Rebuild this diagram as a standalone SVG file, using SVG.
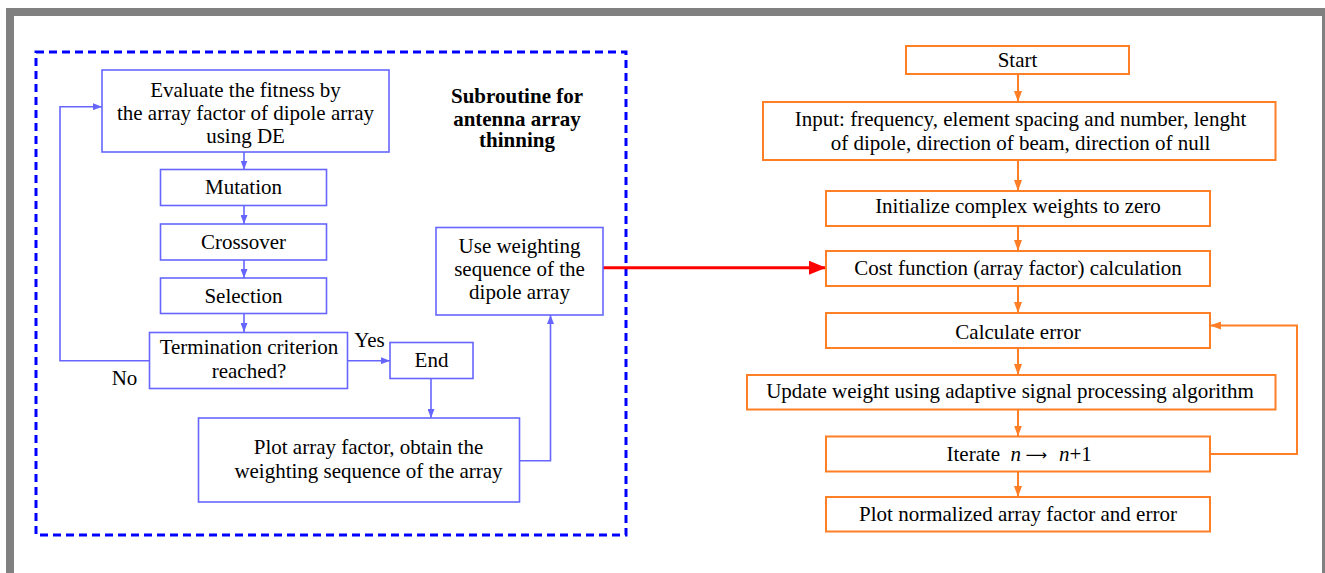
<svg xmlns="http://www.w3.org/2000/svg" width="1325" height="573" viewBox="0 0 1325 573">
<style>
  .t { font-family: "Liberation Serif", "Times New Roman", serif; font-size: 21px; fill: #000; text-anchor: middle; }
  .tb { font-family: "Liberation Serif", "Times New Roman", serif; font-size: 21px; font-weight: bold; fill: #000; text-anchor: middle; }
  .bbox { fill: #fff; stroke: #6666ff; stroke-width: 1.6; }
  .obox { fill: #fff; stroke: #ff7f27; stroke-width: 2; }
  .bl { fill: none; stroke: #6666ff; stroke-width: 1.6; }
  .ol { fill: none; stroke: #ff7f27; stroke-width: 2; }
</style>
<defs>
  <marker id="ab" markerUnits="userSpaceOnUse" markerWidth="9" markerHeight="7" refX="9" refY="3.5" orient="auto">
    <path d="M0,0 L9,3.5 L0,7 z" fill="#6666ff"/>
  </marker>
  <marker id="ao" markerUnits="userSpaceOnUse" markerWidth="11" markerHeight="8" refX="11" refY="4" orient="auto">
    <path d="M0,0 L11,4 L0,8 z" fill="#ff7f27"/>
  </marker>
  <marker id="ar" markerUnits="userSpaceOnUse" markerWidth="17" markerHeight="14" refX="17" refY="7" orient="auto">
    <path d="M0,0 L17,7 L0,14 z" fill="#ff0000"/>
  </marker>
</defs>

<rect x="6" y="8" width="1325" height="580" fill="#808080"/>
<rect x="14" y="16" width="1308" height="570" fill="#ffffff"/>

<rect id="subroutine-frame" x="36" y="52" width="590" height="483" fill="none" stroke="#0000ff" stroke-width="3" stroke-dasharray="8,5"/>

<g id="connectors">
  <path class="bl" d="M244,152 V169.5" marker-end="url(#ab)"/>
  <path class="bl" d="M244,205.5 V224" marker-end="url(#ab)"/>
  <path class="bl" d="M244,260 V278" marker-end="url(#ab)"/>
  <path class="bl" d="M244,313.5 V332" marker-end="url(#ab)"/>
  <path class="bl" d="M347,360.7 H390" marker-end="url(#ab)"/>
  <path class="bl" d="M431,378.5 V418" marker-end="url(#ab)"/>
  <path class="bl" d="M519,460.7 H550.5 V315" marker-end="url(#ab)"/>
  <path class="bl" d="M149,360.7 H60 V106.7 H102" marker-end="url(#ab)"/>
  <path d="M603,267.7 H826" fill="none" stroke="#ff0000" stroke-width="3" marker-end="url(#ar)"/>
  <path class="ol" d="M1018,74 V102" marker-end="url(#ao)"/>
  <path class="ol" d="M1018,160 V191" marker-end="url(#ao)"/>
  <path class="ol" d="M1018,226 V251" marker-end="url(#ao)"/>
  <path class="ol" d="M1018,286 V313" marker-end="url(#ao)"/>
  <path class="ol" d="M1018,348 V375" marker-end="url(#ao)"/>
  <path class="ol" d="M1018,409.5 V436.5" marker-end="url(#ao)"/>
  <path class="ol" d="M1018,471.5 V497" marker-end="url(#ao)"/>
  <path class="ol" d="M1210,454 H1297 V325.5 H1210" marker-end="url(#ao)"/>
</g>

<g id="title">
  <text class="tb" x="517" y="102.5">Subroutine for</text>
  <text class="tb" x="517" y="125.5">antenna array</text>
  <text class="tb" x="517" y="147">thinning</text>
</g>

<g id="evaluate">
  <rect class="bbox" x="102" y="70" width="287" height="82"/>
  <text class="t" x="245.5" y="97.3">Evaluate the fitness by</text>
  <text class="t" x="245.5" y="120.3">the array factor of dipole array</text>
  <text class="t" x="245.5" y="143.3">using DE</text>
</g>
<g id="mutation">
  <rect class="bbox" x="160.5" y="169.5" width="166" height="36"/>
  <text class="t" x="243.5" y="194.3">Mutation</text>
</g>
<g id="crossover">
  <rect class="bbox" x="160.5" y="224" width="166" height="36"/>
  <text class="t" x="243.5" y="248.5">Crossover</text>
</g>
<g id="selection">
  <rect class="bbox" x="160.5" y="278" width="166" height="35.5"/>
  <text class="t" x="243.5" y="303">Selection</text>
</g>
<g id="termination">
  <rect class="bbox" x="149.5" y="332.5" width="198" height="56"/>
  <text class="t" x="249" y="354">Termination criterion</text>
  <text class="t" x="249" y="377.5">reached?</text>
</g>
<g id="labels">
  <text class="t" x="369.5" y="346.7">Yes</text>
  <text class="t" x="124.5" y="384.5">No</text>
</g>
<g id="end">
  <rect class="bbox" x="390" y="342.5" width="83" height="36"/>
  <text class="t" x="431.5" y="366.8">End</text>
</g>
<g id="plot-array">
  <rect class="bbox" x="198.5" y="418" width="321" height="84"/>
  <text class="t" x="368.5" y="454.3">Plot array factor, obtain the</text>
  <text class="t" x="368.5" y="478.3">weighting sequence of the array</text>
</g>
<g id="use-weighting">
  <rect class="bbox" x="436" y="227.5" width="167" height="87.5"/>
  <text class="t" x="519.5" y="253.3">Use weighting</text>
  <text class="t" x="519.5" y="276.3">sequence of the</text>
  <text class="t" x="519.5" y="299.3">dipole array</text>
</g>

<g id="start">
  <rect class="obox" x="906" y="46" width="223" height="28"/>
  <text class="t" x="1017.5" y="66.7">Start</text>
</g>
<g id="input">
  <rect class="obox" x="763" y="102" width="512.5" height="58"/>
  <text class="t" x="1020.5" y="126">Input: frequency, element spacing and number, lenght</text>
  <text class="t" x="1020.5" y="149.5">of dipole, direction of beam, direction of null</text>
</g>
<g id="initialize">
  <rect class="obox" x="826" y="191" width="384" height="35"/>
  <text class="t" x="1018" y="213">Initialize complex weights to zero</text>
</g>
<g id="cost">
  <rect class="obox" x="826" y="251" width="384" height="35"/>
  <text class="t" x="1018" y="275">Cost function (array factor) calculation</text>
</g>
<g id="calc-error">
  <rect class="obox" x="826" y="313" width="384" height="35"/>
  <text class="t" x="1018" y="338.5">Calculate error</text>
</g>
<g id="update">
  <rect class="obox" x="747" y="375" width="528.5" height="34.5"/>
  <text class="t" x="1010" y="398">Update weight using adaptive signal processing algorithm</text>
</g>
<g id="iterate">
  <rect class="obox" x="826" y="436.5" width="384" height="35"/>
  <text class="t" x="1018" y="460.7" text-anchor="start"><tspan x="946.5" text-anchor="start">Iterate</tspan><tspan x="1010.5" text-anchor="start" font-style="italic">n</tspan><tspan x="1025.5" text-anchor="start" font-family="DejaVu Sans, sans-serif" font-size="15" dy="-1">⟶</tspan><tspan x="1059" text-anchor="start" dy="1"><tspan font-style="italic">n</tspan>+1</tspan></text>
</g>
<g id="plot-normalized">
  <rect class="obox" x="826" y="497" width="384" height="34.5"/>
  <text class="t" x="1018" y="521">Plot normalized array factor and error</text>
</g>
</svg>
